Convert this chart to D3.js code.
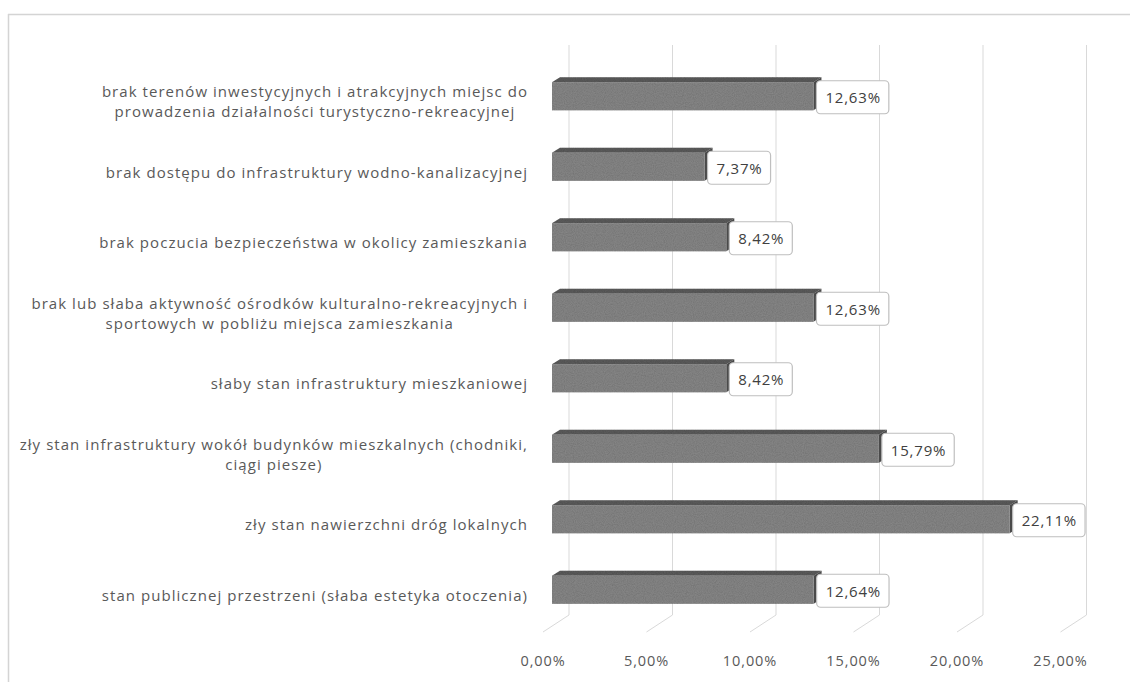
<!DOCTYPE html>
<html>
<head>
<meta charset="utf-8">
<script src="https://cdn.jsdelivr.net/npm/d3@7"></script>
<style>
  html, body { margin: 0; padding: 0; background: #ffffff; }
  svg { display: block; }
</style>
</head>
<body>
<script>
// ---- data ----
const categories = [
  ["brak terenów inwestycyjnych i atrakcyjnych miejsc do", "prowadzenia działalności turystyczno-rekreacyjnej"],
  ["brak dostępu do infrastruktury wodno-kanalizacyjnej"],
  ["brak poczucia bezpieczeństwa w okolicy zamieszkania"],
  ["brak lub słaba aktywność ośrodków kulturalno-rekreacyjnych i", "sportowych w pobliżu miejsca zamieszkania"],
  ["słaby stan infrastruktury mieszkaniowej"],
  ["zły stan infrastruktury wokół budynków mieszkalnych (chodniki,", "ciągi piesze)"],
  ["zły stan nawierzchni dróg lokalnych"],
  ["stan publicznej przestrzeni (słaba estetyka otoczenia)"]
];
const values = [12.63, 7.37, 8.42, 12.63, 8.42, 15.79, 22.11, 12.64];
const valueLabels = ["12,63%", "7,37%", "8,42%", "12,63%", "8,42%", "15,79%", "22,11%", "12,64%"];
const tickValues = [0, 5, 10, 15, 20, 25];
const tickLabels = ["0,00%", "5,00%", "10,00%", "15,00%", "20,00%", "25,00%"];

// ---- layout ----
const W = 1130, H = 682;
const FONT = "'Open Sans', 'Noto Sans', sans-serif";
const svg = d3.select("body").append("svg").attr("width", W).attr("height", H);

const x = d3.scaleLinear().domain([0, 25]).range([552, 552 + 25 * 20.7]);
const y = d3.scaleBand().domain(d3.range(categories.length)).range([61, 625]).paddingInner(0.6).paddingOuter(0.3);
const backDx = 17, floorBack = 615, floorFront = 632, floorDx = -9;
const depthDx = 8, depthDy = -5;

// chart border (top and left visible)
svg.append("line").attr("x1", 8).attr("x2", W).attr("y1", 14.5).attr("y2", 14.5)
  .attr("stroke", "#d4d4d4").attr("stroke-width", 1.5);
svg.append("line").attr("x1", 8.5).attr("x2", 8.5).attr("y1", 14).attr("y2", H)
  .attr("stroke", "#d4d4d4").attr("stroke-width", 1.5);

// gridlines on back wall + floor diagonals
const grid = svg.append("g");
grid.selectAll("line.v").data(tickValues).join("line").attr("class", "v")
  .attr("x1", d => x(d) + backDx).attr("x2", d => x(d) + backDx)
  .attr("y1", 45).attr("y2", floorBack)
  .attr("stroke", "#d9d9d9").attr("stroke-width", 1);
grid.selectAll("line.f").data(tickValues).join("line").attr("class", "f")
  .attr("x1", d => x(d) + backDx).attr("x2", d => x(d) + floorDx)
  .attr("y1", floorBack).attr("y2", floorFront)
  .attr("stroke", "#d9d9d9").attr("stroke-width", 1);

// tick labels
svg.append("g").selectAll("text").data(tickValues).join("text")
  .attr("x", d => x(d) + floorDx).attr("y", 660)
  .attr("text-anchor", "middle").attr("dominant-baseline", "central")
  .attr("font-family", FONT).attr("font-size", 14.5).attr("letter-spacing", 0.9).attr("fill", "#595959")
  .text((d, i) => tickLabels[i]);

// texture filter for bar faces
const defs = svg.append("defs");
const flt = defs.append("filter").attr("id", "grain").attr("x", 0).attr("y", 0).attr("width", 1).attr("height", 1);
flt.append("feTurbulence").attr("type", "fractalNoise").attr("baseFrequency", 0.9).attr("numOctaves", 2).attr("seed", 3).attr("result", "n");
flt.append("feColorMatrix").attr("in", "n").attr("type", "matrix")
  .attr("values", "0 0 0 0 0  0 0 0 0 0  0 0 0 0 0  0 0 0 0.35 0").attr("result", "na");
flt.append("feComposite").attr("in", "na").attr("in2", "SourceGraphic").attr("operator", "in").attr("result", "nc");
flt.append("feMerge").selectAll("feMergeNode").data(["SourceGraphic", "nc"]).join("feMergeNode").attr("in", d => d);

// bars
const bars = svg.append("g").selectAll("g").data(values).join("g");
bars.each(function(v, i) {
  const g = d3.select(this);
  const x0 = x(0), x1 = x(v);
  const top = y(i), bot = y(i) + y.bandwidth();
  // top face
  g.append("path").attr("d", `M${x0},${top}L${x0 + depthDx},${top + depthDy}L${x1 + depthDx},${top + depthDy}L${x1},${top}Z`)
    .attr("fill", "#5e5e5e").attr("filter", "url(#grain)");
  // side face
  g.append("path").attr("d", `M${x1},${top}L${x1 + depthDx},${top + depthDy}L${x1 + depthDx},${bot + depthDy}L${x1},${bot}Z`)
    .attr("fill", "#4a4a4a");
  // front face
  g.append("rect").attr("x", x0).attr("y", top).attr("width", x1 - x0).attr("height", bot - top)
    .attr("fill", "#8a8a8a").attr("filter", "url(#grain)");
});

// data labels
const lab = svg.append("g").selectAll("g").data(values).join("g");
lab.each(function(v, i) {
  const g = d3.select(this);
  const cy = y(i) + y.bandwidth() / 2 + 1;
  const t = g.append("text").attr("font-family", FONT).attr("font-size", 15).attr("letter-spacing", 0.8)
    .attr("fill", "#404040").attr("dominant-baseline", "central").text(valueLabels[i]);
  const tw = t.node().getComputedTextLength();
  const bw = tw + 17, bh = 33;
  const bx = x(v) + 3;
  g.insert("rect", "text").attr("x", bx).attr("y", cy - bh / 2).attr("width", bw).attr("height", bh)
    .attr("rx", 4).attr("fill", "#ffffff").attr("stroke", "#bfbfbf").attr("stroke-width", 1.2);
  t.attr("x", bx + 9).attr("y", cy);
});

// category labels (multi-line, centred within block, block right-aligned)
const cat = svg.append("g").selectAll("g").data(categories).join("g");
cat.each(function(lines, i) {
  const g = d3.select(this);
  const cy = y(i) + y.bandwidth() / 2 + 5;
  const lh = 20;
  const texts = lines.map((s, k) => g.append("text")
    .attr("font-family", FONT).attr("font-size", 15).attr("letter-spacing", 1.05).attr("fill", "#595959")
    .attr("text-anchor", "middle").attr("dominant-baseline", "central")
    .attr("y", cy + (k - (lines.length - 1) / 2) * lh).text(s));
  const maxW = d3.max(texts, t => t.node().getComputedTextLength());
  const cx = 528 - maxW / 2;
  texts.forEach(t => t.attr("x", cx));
});
</script>
</body>
</html>
